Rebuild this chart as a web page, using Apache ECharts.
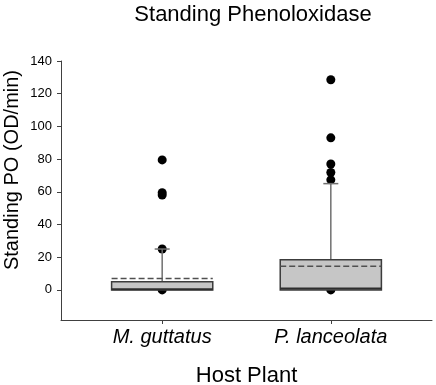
<!DOCTYPE html>
<html>
<head>
<meta charset="utf-8">
<script src="https://cdn.jsdelivr.net/npm/echarts@6/dist/echarts.min.js"></script>
<style>
  html, body { margin: 0; padding: 0; background: #fff; }
  #chart { width: 436px; height: 385px; }
</style>
</head>
<body>
<div id="chart"></div>
<script>
// box summary per host plant
const categories = ['M. guttatus', 'P. lanceolata'];
const q1 = [0, 0];
const median = [0.4, 0.8];
const q3 = [5, 18.5];
const mean = [7, 14.5];
const whiskerLow = [0, 0];
const whiskerHigh = [25, 65];
const outliers = [
  [79.5, 59.5, 58, 25, 0],
  [128.5, 93, 77, 71.8, 67.3, 0]
];
const yTicks = [0, 20, 40, 60, 80, 100, 120, 140];

const chart = echarts.init(document.getElementById('chart'));

const boxData = categories.map((c, i) =>
  [i + 1, q1[i], median[i], q3[i], mean[i], whiskerLow[i], whiskerHigh[i]]);
const pointData = [];
outliers.forEach((arr, i) => arr.forEach(v => pointData.push([i + 1, v])));

const axisColor = '#404040';
const font = 'Liberation Sans, Arial, sans-serif';

const option = {
  animation: false,
  title: {
    text: 'Standing Phenoloxidase',
    left: 248,
    textAlign: 'center',
    top: -1,
    textStyle: { fontFamily: font, fontSize: 22, fontWeight: 'normal', color: '#000' }
  },
  grid: { left: 61, right: 4, top: 61, bottom: 65, outerBoundsMode: 'none' },
  xAxis: {
    type: 'value',
    min: 0.4,
    max: 2.6,
    name: 'Host Plant',
    nameLocation: 'middle',
    nameGap: 45,
    nameTextStyle: { fontFamily: font, fontSize: 22, color: '#000' },
    splitLine: { show: false },
    axisLine: { show: true, onZero: false, lineStyle: { color: axisColor, width: 1 } },
    axisTick: { show: true, length: 4, customValues: [1, 2], lineStyle: { color: axisColor } },
    axisLabel: {
      customValues: [1, 2],
      formatter: v => categories[Math.round(v) - 1] || '',
      fontFamily: font, fontSize: 20, fontStyle: 'italic', color: '#000', margin: 7
    }
  },
  yAxis: {
    type: 'value',
    min: -18.4,
    max: 140,
    splitLine: { show: false },
    axisLine: { show: true, onZero: false, lineStyle: { color: axisColor, width: 1 } },
    axisTick: { show: true, length: 4, customValues: yTicks, lineStyle: { color: axisColor } },
    axisLabel: {
      customValues: yTicks,
      fontFamily: font, fontSize: 13, color: '#000', margin: 9
    }
  },
  graphic: [{
    type: 'text',
    x: 12,
    y: 170,
    rotation: Math.PI / 2,
    style: {
      text: 'Standing PO (OD/min)',
      fontFamily: font, fontSize: 20, fill: '#000',
      align: 'center', verticalAlign: 'middle'
    }
  }],
  series: [
    {
      type: 'scatter',
      data: pointData,
      symbol: 'circle',
      symbolSize: 9,
      itemStyle: { color: '#000', opacity: 1 },
      z: 2
    },
    {
      type: 'custom',
      data: boxData,
      z: 3,
      renderItem: function (params, api) {
        const x = api.value(0);
        const halfW = api.size([0.6, 0])[0] / 2;
        const capHalf = 7.5;
        const pQ1 = api.coord([x, api.value(1)]);
        const pMed = api.coord([x, api.value(2)]);
        const pQ3 = api.coord([x, api.value(3)]);
        const pMean = api.coord([x, api.value(4)]);
        const pHi = api.coord([x, api.value(6)]);
        const cx = pQ1[0];
        return {
          type: 'group',
          children: [
            { type: 'line', shape: { x1: cx, y1: pQ3[1], x2: cx, y2: pHi[1] },
              style: { stroke: '#707070', lineWidth: 1.5 } },
            { type: 'line', shape: { x1: cx - capHalf, y1: pHi[1], x2: cx + capHalf, y2: pHi[1] },
              style: { stroke: '#707070', lineWidth: 1.5 } },
            { type: 'rect', shape: { x: cx - halfW, y: pQ3[1], width: halfW * 2, height: pQ1[1] - pQ3[1] },
              style: { fill: '#c6c6c6', stroke: '#3c3c3c', lineWidth: 1.5 } },
            { type: 'line', shape: { x1: cx - halfW, y1: pMed[1], x2: cx + halfW, y2: pMed[1] },
              style: { stroke: '#2e2e2e', lineWidth: 2 } },
            { type: 'line', shape: { x1: cx - halfW, y1: pMean[1], x2: cx + halfW, y2: pMean[1] },
              style: { stroke: '#505050', lineWidth: 1.5, lineDash: [6, 3] } }
          ]
        };
      }
    }
  ]
};

chart.setOption(option);
</script>
</body>
</html>
